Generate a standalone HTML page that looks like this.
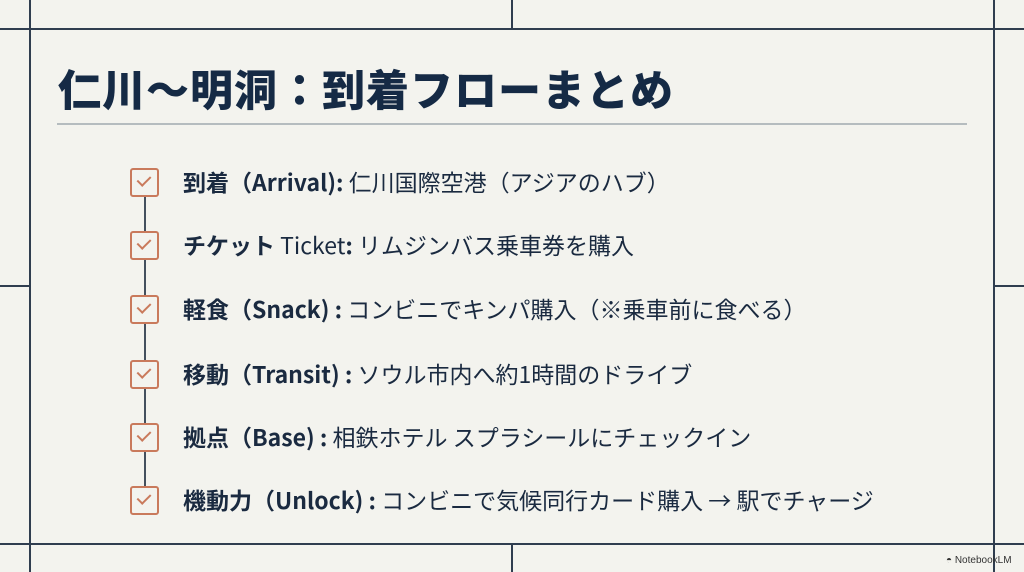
<!DOCTYPE html>
<html><head><meta charset="utf-8"><style>
body{margin:0;width:1024px;height:572px;background:#f3f3ee;position:relative;overflow:hidden;font-family:"Liberation Sans","Noto Sans CJK JP",sans-serif;color:#1a2a40}
.l{position:absolute;background:#2f3d4f}
h1{position:absolute;left:58px;top:58px;margin:0;font-size:43px;font-weight:900;color:#152a45;font-family:"Noto Sans CJK JP",sans-serif;letter-spacing:1px;line-height:60px}
.row{position:absolute;left:183px;font-size:23px;line-height:30px;white-space:nowrap;font-family:"Noto Sans CJK JP",sans-serif}
.row b{font-weight:700}
.cb{position:absolute;left:130px;width:25px;height:25px;border:2px solid #c97a5c;border-radius:3px;background:#f3f3ee}
.cb:after{content:"";position:absolute;left:8px;top:3px;width:6px;height:11px;border:solid #c97a5c;border-width:0 2px 2px 0;transform:rotate(45deg)}
</style></head><body>
<div class="l" style="left:0;top:28px;width:1024px;height:2px"></div>
<div class="l" style="left:0;top:543px;width:1024px;height:2px"></div>
<div class="l" style="left:29px;top:0;width:2px;height:572px"></div>
<div class="l" style="left:993px;top:0;width:2px;height:572px"></div>
<div class="l" style="left:511px;top:0;width:2px;height:29px"></div>
<div class="l" style="left:511px;top:544px;width:2px;height:28px"></div>
<div class="l" style="left:0;top:285px;width:30px;height:2px"></div>
<div class="l" style="left:994px;top:285px;width:30px;height:2px"></div>
<h1>仁川〜明洞：到着フローまとめ</h1>
<div style="position:absolute;left:57px;top:123px;width:910px;height:2px;background:#b5bcbf"></div>
<div style="position:absolute;left:144px;top:182px;width:1.5px;height:318px;background:#44505e"></div>
<div class="cb" style="top:168px"></div><div class="row" style="top:166px"><b>到着（Arrival):</b> 仁川国際空港（アジアのハブ）</div>
<div class="cb" style="top:231px"></div><div class="row" style="top:229px"><b>チケット</b> Ticket<b>:</b> リムジンバス乗車券を購入</div>
<div class="cb" style="top:295px"></div><div class="row" style="top:293px"><b>軽食（Snack) :</b> コンビニでキンパ購入（※乗車前に食べる）</div>
<div class="cb" style="top:360px"></div><div class="row" style="top:358px"><b>移動（Transit) :</b> ソウル市内へ約1時間のドライブ</div>
<div class="cb" style="top:423px"></div><div class="row" style="top:421px"><b>拠点（Base) :</b> 相鉄ホテル スプラシールにチェックイン</div>
<div class="cb" style="top:486px"></div><div class="row" style="top:484px"><b>機動力（Unlock) :</b> コンビニで気候同行カード購入 → 駅でチャージ</div>
<div style="position:absolute;left:946px;top:555px;font-size:10px;color:#333">◓ NotebookLM</div>
</body></html>
